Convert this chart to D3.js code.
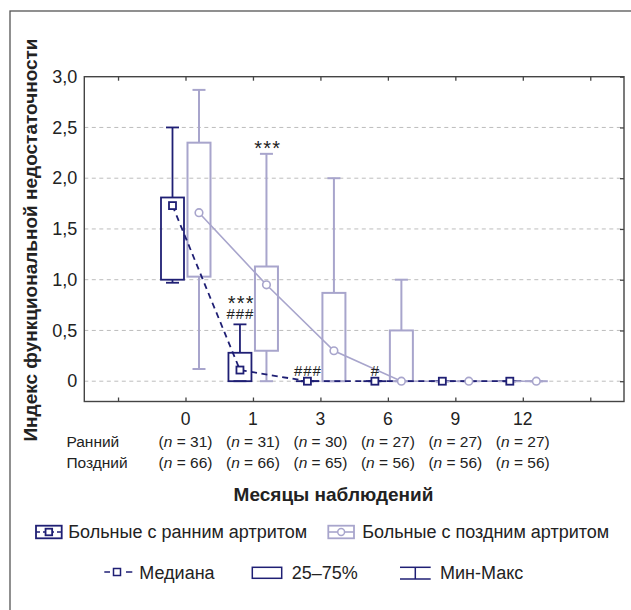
<!DOCTYPE html>
<html>
<head>
<meta charset="utf-8">
<script src="https://cdn.jsdelivr.net/npm/d3@7/dist/d3.min.js"></script>
<style>
  html, body { margin: 0; padding: 0; background: #fff; }
  svg { display: block; }
  text { font-family: "Liberation Sans", Arial, sans-serif; fill: #222; }
</style>
</head>
<body>
<svg id="chart" width="631" height="610"></svg>
<script>
// Observation months and group sizes
const months = ["0", "1", "3", "6", "9", "12"];
const nEarly = [31, 31, 30, 27, 27, 27];
const nLate  = [66, 66, 65, 56, 56, 56];

// Early arthritis: min, quartiles, median, max
const earlyMin = [0.97, 0, 0, 0, 0, 0];
const earlyQ1  = [1.00, 0, 0, 0, 0, 0];
const earlyMed = [1.73, 0.11, 0, 0, 0, 0];
const earlyQ3  = [1.81, 0.28, 0, 0, 0, 0];
const earlyMax = [2.50, 0.56, 0, 0, 0, 0];

// Late arthritis: min, quartiles, median, max
const lateMin = [0.12, 0, 0, 0, 0, 0];
const lateQ1  = [1.03, 0.30, 0, 0, 0, 0];
const lateMed = [1.66, 0.95, 0.30, 0, 0, 0];
const lateQ3  = [2.35, 1.13, 0.87, 0.50, 0, 0];
const lateMax = [2.87, 2.24, 2.00, 1.00, 0, 0];

// Significance marks above each box
const sigEarly = [[], ["***", "###"], ["###"], ["#"], [], []];
const sigLate  = [[], ["***"], [], [], [], []];

const yTicks = [0, 0.5, 1, 1.5, 2, 2.5, 3];

const NAVY = "#1f1f74";
const LILAC = "#a8a5cc";
const AXIS = "#444";

const svg = d3.select("#chart");

// Outer frame
svg.append("rect")
  .attr("x", 10).attr("y", 11).attr("width", 640).attr("height", 620)
  .attr("fill", "none").attr("stroke", "#555").attr("stroke-width", 1.3);

const L = 84.3, R = 624, T = 76.7, B = 401.5;

// One empty slot on each side of the months
const slots = ["_a", ...months, "_b"];
const x = d3.scalePoint().domain(slots).range([L, R]).padding(0.5);
const y = d3.scaleLinear().domain([-0.2, 3.0]).range([B, T]);

const OFF_E = -13, OFF_L = 13.5, BOXW = 23, CAPW = 13;

// Grid
svg.append("g").selectAll("line")
  .data(yTicks.filter(v => v < 3))
  .join("line")
  .attr("x1", L).attr("x2", R)
  .attr("y1", d => y(d)).attr("y2", d => y(d))
  .attr("stroke", "#bdbdbd").attr("stroke-width", 1)
  .attr("stroke-dasharray", "4,3.5");

// Y labels
const fmt = d => d === 0 ? "0" : d3.format(".1f")(d).replace(".", ",");
const yAxis = svg.append("g").attr("transform", `translate(${L},0)`)
  .call(d3.axisLeft(y).tickValues(yTicks).tickSize(0).tickPadding(7).tickFormat(fmt));
yAxis.select(".domain").remove();
yAxis.selectAll("text").style("font-size", "18px").attr("fill", "#222")
  .style("font-family", "'Liberation Sans', Arial, sans-serif");

// Inner ticks on right, top and bottom edges
const rAxis = svg.append("g").attr("transform", `translate(${R},0)`)
  .call(d3.axisLeft(y).tickValues(yTicks).tickSize(4).tickFormat(""));
rAxis.select(".domain").remove();
rAxis.selectAll("line").attr("stroke", AXIS).attr("stroke-width", 1.3);

const tAxis = svg.append("g").attr("transform", `translate(0,${T})`)
  .call(d3.axisBottom(x).tickSize(4).tickFormat(""));
tAxis.select(".domain").remove();
tAxis.selectAll("line").attr("stroke", AXIS).attr("stroke-width", 1.3);

const bAxis = svg.append("g").attr("transform", `translate(0,${B})`)
  .call(d3.axisTop(x).tickSize(4).tickFormat(""));
bAxis.select(".domain").remove();
bAxis.selectAll("line").attr("stroke", AXIS).attr("stroke-width", 1.3);

// Plot border
svg.append("rect")
  .attr("x", L).attr("y", T).attr("width", R - L).attr("height", B - T)
  .attr("fill", "none").attr("stroke", AXIS).attr("stroke-width", 1.4);

// Box plots
function drawBoxes(minA, q1A, medA, q3A, maxA, off, color, sw) {
  const g = svg.append("g");
  months.forEach((m, i) => {
    const cx = x(m) + off;
    // whiskers
    g.append("line").attr("x1", cx).attr("x2", cx)
      .attr("y1", y(q3A[i])).attr("y2", y(maxA[i]))
      .attr("stroke", color).attr("stroke-width", sw);
    g.append("line").attr("x1", cx).attr("x2", cx)
      .attr("y1", y(q1A[i])).attr("y2", y(minA[i]))
      .attr("stroke", color).attr("stroke-width", sw);
    [maxA[i], minA[i]].forEach(v => {
      g.append("line").attr("x1", cx - CAPW / 2).attr("x2", cx + CAPW / 2)
        .attr("y1", y(v)).attr("y2", y(v))
        .attr("stroke", color).attr("stroke-width", sw);
    });
    // interquartile box
    g.append("rect")
      .attr("x", cx - BOXW / 2).attr("width", BOXW)
      .attr("y", y(q3A[i])).attr("height", y(q1A[i]) - y(q3A[i]))
      .attr("fill", "none").attr("stroke", color).attr("stroke-width", sw);
    if (q3A[i] === q1A[i]) {
      g.append("line").attr("x1", cx - BOXW / 2).attr("x2", cx + BOXW / 2)
        .attr("y1", y(q1A[i])).attr("y2", y(q1A[i]))
        .attr("stroke", color).attr("stroke-width", sw);
    }
  });
}
drawBoxes(lateMin, lateQ1, lateMed, lateQ3, lateMax, OFF_L, LILAC, 2);
drawBoxes(earlyMin, earlyQ1, earlyMed, earlyQ3, earlyMax, OFF_E, NAVY, 1.8);

// Median lines
const lateLine = d3.line().x((d, i) => x(months[i]) + OFF_L).y(d => y(d));
svg.append("path").datum(lateMed).attr("d", lateLine)
  .attr("fill", "none").attr("stroke", LILAC).attr("stroke-width", 1.6);
const earlyLine = d3.line().x((d, i) => x(months[i]) + OFF_E).y(d => y(d));
svg.append("path").datum(earlyMed).attr("d", earlyLine)
  .attr("fill", "none").attr("stroke", NAVY).attr("stroke-width", 1.8)
  .attr("stroke-dasharray", "6,4.5");

// Median markers
svg.append("g").selectAll("circle").data(lateMed).join("circle")
  .attr("cx", (d, i) => x(months[i]) + OFF_L).attr("cy", d => y(d)).attr("r", 3.8)
  .attr("fill", "#fff").attr("stroke", LILAC).attr("stroke-width", 1.6);
svg.append("g").selectAll("rect").data(earlyMed).join("rect")
  .attr("x", (d, i) => x(months[i]) + OFF_E - 3.5).attr("y", d => y(d) - 3.5)
  .attr("width", 7).attr("height", 7)
  .attr("fill", "#fff").attr("stroke", NAVY).attr("stroke-width", 1.8);

// Significance marks: one text per box, lines stacked with tspans
function drawSig(marks, maxA, off) {
  marks.forEach((lines, i) => {
    if (!lines.length) return;
    const cx = x(months[i]) + off;
    const base = y(maxA[i]) - 5;
    const n = lines.length;
    const t = svg.append("text").attr("text-anchor", "middle").attr("fill", "#333");
    lines.forEach((s, k) => {
      const star = s.includes("*");
      t.append("tspan")
        .attr("x", cx + (star ? 1.2 : 0.5))
        .attr("y", base - (n - 1 - k) * 15 + (star ? 6 : 0))
        .style("font-size", star ? "20px" : "15px")
        .style("letter-spacing", star ? "1.2px" : "1px")
        .text(s);
    });
  });
}
drawSig(sigEarly, earlyMax, OFF_E);
drawSig(sigLate, lateMax, OFF_L);

// Month labels
svg.append("g").selectAll("text").data(months).join("text")
  .attr("x", d => x(d)).attr("y", 424.5)
  .attr("text-anchor", "middle").style("font-size", "17.5px")
  .text(d => d);

// Group size rows
const rows = [["Ранний", nEarly, 447.2], ["Поздний", nLate, 468.2]];
rows.forEach(([name, ns, yy]) => {
  svg.append("text").attr("x", 66.4).attr("y", yy).style("font-size", "15.5px").text(name);
  ns.forEach((n, i) => {
    const t = svg.append("text").attr("x", x(months[i])).attr("y", yy)
      .attr("text-anchor", "middle").style("font-size", "15.5px");
    t.append("tspan").text("(");
    t.append("tspan").style("font-style", "italic").text("n");
    t.append("tspan").text(" = " + n + ")");
  });
});

// Axis titles
svg.append("text").attr("x", 333.5).attr("y", 500.5)
  .attr("text-anchor", "middle").style("font-size", "19px").style("font-weight", "bold")
  .text("Месяцы наблюдений");

svg.append("text")
  .attr("transform", `translate(36.5,240) rotate(-90)`)
  .attr("text-anchor", "middle").style("font-size", "19px").style("font-weight", "bold")
  .text("Индекс функциональной недостаточности");

// Legend: groups
function groupIcon(x0, yc, color, marker) {
  const g = svg.append("g");
  g.append("rect").attr("x", x0).attr("y", yc - 6.3).attr("width", 25.7).attr("height", 12.6)
    .attr("fill", "#fff").attr("stroke", color).attr("stroke-width", 1.8);
  g.append("line").attr("x1", x0).attr("x2", x0 + 25.7).attr("y1", yc).attr("y2", yc)
    .attr("stroke", color).attr("stroke-width", 1.6)
    .attr("stroke-dasharray", marker === "square" ? "4,3" : null);
  if (marker === "square") {
    g.append("rect").attr("x", x0 + 12.85 - 3.3).attr("y", yc - 3.3).attr("width", 6.6).attr("height", 6.6)
      .attr("fill", "#fff").attr("stroke", color).attr("stroke-width", 1.8);
  } else {
    g.append("circle").attr("cx", x0 + 12.85).attr("cy", yc).attr("r", 3.4)
      .attr("fill", "#fff").attr("stroke", color).attr("stroke-width", 1.5);
  }
}
const LY1 = 532, LY2 = 572.5;
groupIcon(36, LY1, NAVY, "square");
svg.append("text").attr("x", 68.3).attr("y", LY1 + 6.3).style("font-size", "18px")
  .text("Больные с ранним артритом");
groupIcon(328.3, LY1, LILAC, "circle");
svg.append("text").attr("x", 362.3).attr("y", LY1 + 6.3).style("font-size", "18px")
  .text("Больные с поздним артритом");

// Legend: symbols
const ly = LY2 - 0.5;
svg.append("line").attr("x1", 104.3).attr("x2", 110).attr("y1", ly).attr("y2", ly)
  .attr("stroke", NAVY).attr("stroke-width", 1.5);
svg.append("line").attr("x1", 126).attr("x2", 132.3).attr("y1", ly).attr("y2", ly)
  .attr("stroke", NAVY).attr("stroke-width", 1.5);
svg.append("rect").attr("x", 113.5).attr("y", ly - 3.5).attr("width", 7).attr("height", 7)
  .attr("fill", "#fff").attr("stroke", NAVY).attr("stroke-width", 1.5);
svg.append("text").attr("x", 139.3).attr("y", LY2 + 6.3).style("font-size", "18px").text("Медиана");

svg.append("rect").attr("x", 252.3).attr("y", 567.3).attr("width", 29.4).attr("height", 11)
  .attr("fill", "none").attr("stroke", NAVY).attr("stroke-width", 1.5);
svg.append("text").attr("x", 291.7).attr("y", LY2 + 6.3).style("font-size", "18px").text("25–75%");

svg.append("line").attr("x1", 400).attr("x2", 430.7).attr("y1", 567.3).attr("y2", 567.3)
  .attr("stroke", NAVY).attr("stroke-width", 1.5);
svg.append("line").attr("x1", 400).attr("x2", 430.7).attr("y1", 579).attr("y2", 579)
  .attr("stroke", NAVY).attr("stroke-width", 1.5);
svg.append("line").attr("x1", 415.3).attr("x2", 415.3).attr("y1", 567.3).attr("y2", 579)
  .attr("stroke", NAVY).attr("stroke-width", 1.5);
svg.append("text").attr("x", 440).attr("y", LY2 + 6.3).style("font-size", "18px").text("Мин-Макс");
</script>
</body>
</html>
